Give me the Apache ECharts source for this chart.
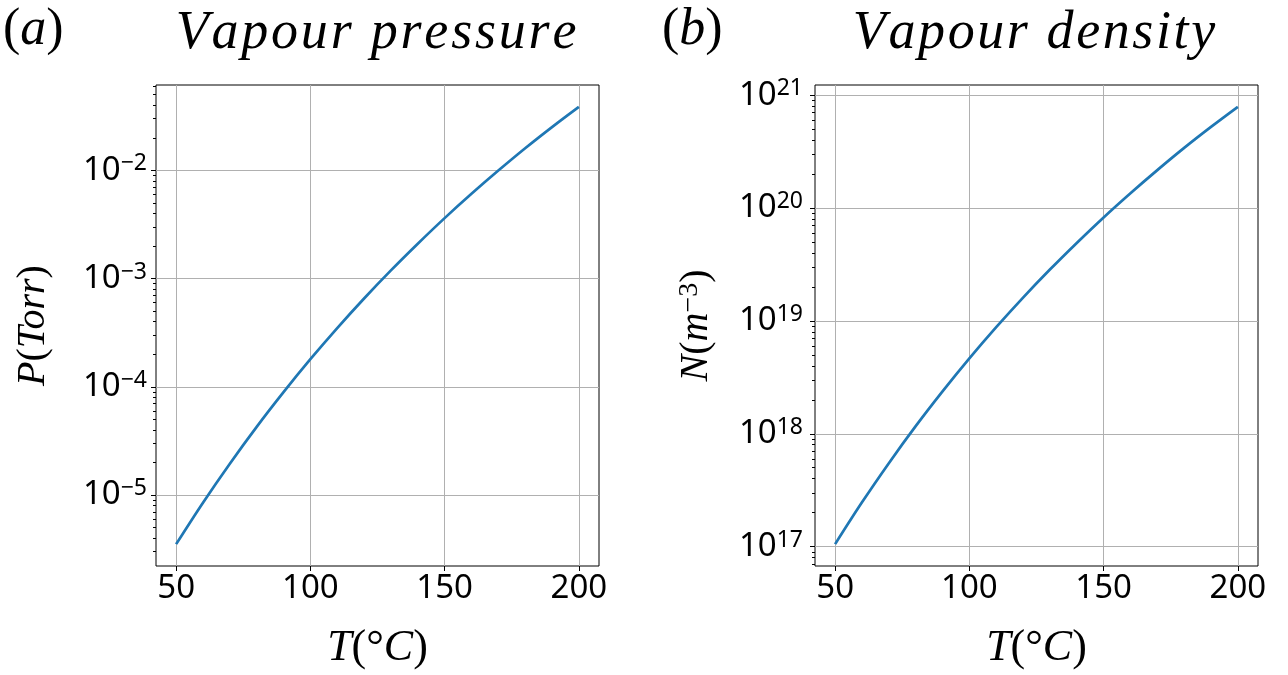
<!DOCTYPE html>
<html><head><meta charset="utf-8">
<script src="https://cdn.jsdelivr.net/npm/echarts@6/dist/echarts.min.js"></script>
<style>html,body{margin:0;padding:0;background:#fff}#c{width:1288px;height:675px}</style>
</head><body><div id="c"></div>
<script>
// ---- data ----
const temperatures = [50, 60, 70, 80, 90, 100, 110, 120, 130, 140, 150, 160, 170, 180, 190, 200];
const pressureTorr = [3.52e-6, 8.51e-6, 1.95e-5, 4.27e-5, 8.93e-5, 1.80e-4, 3.49e-4, 6.55e-4, 1.19e-3, 2.10e-3, 3.62e-3, 6.07e-3, 9.95e-3, 1.60e-2, 2.51e-2, 3.86e-2];
const densityPerM3 = [1.052e17, 2.467e17, 5.487e17, 1.168e18, 2.375e18, 4.658e18, 8.796e18, 1.609e19, 2.850e19, 4.908e19, 8.261e19, 1.353e20, 2.168e20, 3.410e20, 5.233e20, 7.878e20];
const xTicks = [50, 100, 150, 200];
const pressureTicks = [1e-5, 1e-4, 1e-3, 1e-2];
const densityTicks = [1e17, 1e18, 1e19, 1e20, 1e21];
const titleLeft = 'Vapour pressure';
const titleRight = 'Vapour density';

// ---- helpers ----
function linExtent(a) {
  const lo = Math.min(...a), hi = Math.max(...a), m = 0.05 * (hi - lo);
  return [lo - m, hi + m];
}
function logExtent(a) {
  const lo = Math.log10(Math.min(...a)), hi = Math.log10(Math.max(...a)), m = 0.05 * (hi - lo);
  return [Math.pow(10, lo - m), Math.pow(10, hi + m)];
}
function minorTicks(ext) {
  const out = [];
  for (let k = Math.floor(Math.log10(ext[0])); k <= Math.ceil(Math.log10(ext[1])); k++) {
    for (let m = 2; m <= 9; m++) {
      const v = m * Math.pow(10, k);
      if (v >= ext[0] && v <= ext[1]) out.push(v);
    }
  }
  return out;
}
const supFmt = v => {
  const e = Math.round(Math.log10(v));
  return '{b|10}{s|' + (e < 0 ? '\u2212' + (-e) : e) + '}';
};
const spaced = (str, style) => str.split('').map(ch => '{' + style + '|' + ch + '}').join('');

const TICKFONT = 'Noto Sans';
const MATH = 'Liberation Serif';
const labelRich = {
  b: { fontFamily: TICKFONT, fontSize: 33, lineHeight: 36, color: '#000' },
  s: { fontFamily: TICKFONT, fontSize: 23, lineHeight: 17, verticalAlign: 'top', color: '#000' }
};
const mathRich = (size, pad) => ({
  i: { fontFamily: MATH, fontStyle: 'italic', fontSize: size, color: '#000' },
  u: { fontFamily: MATH, fontSize: size, color: '#000' },
  s: { fontFamily: MATH, fontSize: Math.round(size * 0.7), lineHeight: Math.round(size * 0.45), verticalAlign: 'top', color: '#000' },
  c: { fontFamily: MATH, fontStyle: 'italic', fontSize: size, color: '#000', padding: [0, pad || 0, 0, pad || 0] }
});

const xExt = linExtent(temperatures);
const pExt = logExtent(pressureTorr);
const nExt = logExtent(densityPerM3);

function xAxis(gi) {
  return {
    type: 'value', gridIndex: gi, min: xExt[0], max: xExt[1],
    axisLine: { show: false },
    axisTick: { show: true, length: 5, customValues: xTicks, lineStyle: { color: '#000', width: 1 } },
    axisLabel: { customValues: xTicks, margin: 6, fontFamily: TICKFONT, fontSize: 33, color: '#000' },
    splitLine: { show: true, lineStyle: { color: '#b0b0b0', width: 1 } },
    name: '{i|T}{u|(°}{i|C}{u|)}', nameLocation: 'middle', nameGap: 60,
    nameTextStyle: { rich: mathRich(44) }
  };
}
function yMajor(gi, ext, ticks, name, gap, margin) {
  return {
    type: 'log', logBase: 10, gridIndex: gi, min: ext[0], max: ext[1], position: 'left',
    axisLine: { show: false },
    axisTick: { show: true, length: 5, customValues: ticks, lineStyle: { color: '#000', width: 1 } },
    axisLabel: { customValues: ticks, formatter: supFmt, margin: margin, rich: labelRich },
    splitLine: { show: true, lineStyle: { color: '#b0b0b0', width: 1 } },
    name: name, nameLocation: 'middle', nameGap: gap, nameRotate: 90,
    nameTextStyle: { rich: mathRich(40) }
  };
}
function yMinor(gi, ext) {
  return {
    type: 'log', logBase: 10, gridIndex: gi, min: ext[0], max: ext[1], position: 'left', offset: 0,
    axisLine: { show: false },
    axisTick: { show: true, length: 3, customValues: minorTicks(ext), lineStyle: { color: '#000', width: 1 } },
    axisLabel: { show: false },
    splitLine: { show: false }
  };
}

const chart = echarts.init(document.getElementById('c'));
chart.setOption({
  animation: false,
  backgroundColor: '#fff',
  grid: [
    { left: 156, top: 85, width: 443, height: 483, show: true, borderColor: '#000', borderWidth: 1, backgroundColor: 'transparent' },
    { left: 815, top: 85, width: 443, height: 483, show: true, borderColor: '#000', borderWidth: 1, backgroundColor: 'transparent' }
  ],
  xAxis: [xAxis(0), xAxis(1)],
  yAxis: [
    yMajor(0, pExt, pressureTicks, '{i|P}{u|(}{i|Torr}{u|)}', 103, 9),
    yMinor(0, pExt),
    yMajor(1, nExt, densityTicks, '{i|N}{u|(}{i|m}{s|\u22123}{u|)}', 99, 12),
    yMinor(1, nExt)
  ],
  series: [
    { type: 'line', xAxisIndex: 0, yAxisIndex: 0, showSymbol: false, z: 5, smooth: 0.35,
      lineStyle: { color: '#1f77b4', width: 2.7 },
      data: temperatures.map((t, i) => [t, pressureTorr[i]]) },
    { type: 'line', xAxisIndex: 1, yAxisIndex: 2, showSymbol: false, z: 5, smooth: 0.35,
      lineStyle: { color: '#1f77b4', width: 2.7 },
      data: temperatures.map((t, i) => [t, densityPerM3[i]]) }
  ],
  graphic: [
    { type: 'text', left: 3, top: 4, style: { text: '{u|(}{i|a}{u|)}', rich: mathRich(52) } },
    { type: 'text', left: 662, top: 4, style: { text: '{u|(}{i|b}{u|)}', rich: mathRich(52) } },
    { type: 'text', x: 376, y: 34, style: { text: spaced(titleLeft, 'c'), rich: mathRich(54, 1.4), align: 'center', verticalAlign: 'middle' } },
    { type: 'text', x: 1034, y: 34, style: { text: spaced(titleRight, 'c'), rich: mathRich(54, 1.3), align: 'center', verticalAlign: 'middle' } }
  ]
});
</script>
</body></html>
